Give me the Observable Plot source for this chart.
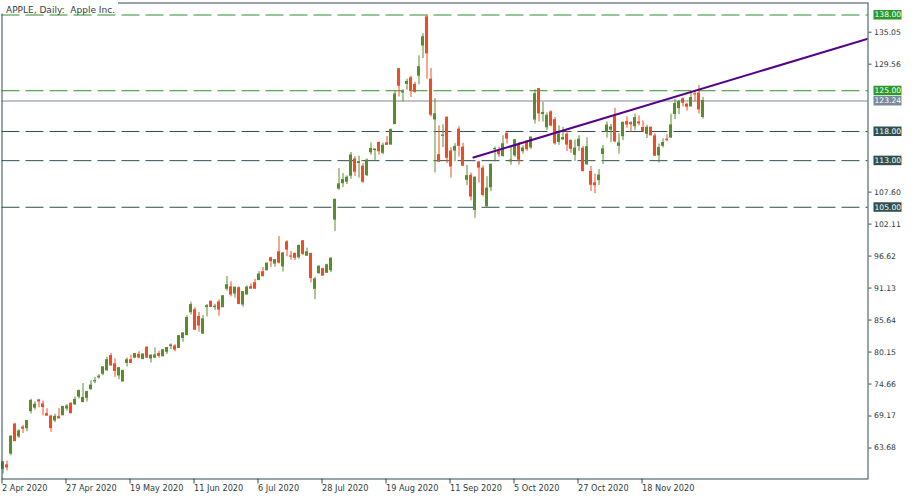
<!DOCTYPE html>
<html><head><meta charset="utf-8">
<script src="https://cdn.jsdelivr.net/npm/d3@7"></script>
<script src="https://cdn.jsdelivr.net/npm/@observablehq/plot@0.6"></script>
<style>
html,body{margin:0;padding:0;background:#fff;}
#chart{width:915px;height:500px;overflow:hidden;}
</style></head><body><div id="chart"></div>
<script>
// ---- data (daily bars, one per trading day, in order) ----
const dates = ["2020-04-02","2020-04-03","2020-04-06","2020-04-07","2020-04-08","2020-04-09","2020-04-13","2020-04-14","2020-04-15","2020-04-16","2020-04-17","2020-04-20","2020-04-21","2020-04-22","2020-04-23","2020-04-24","2020-04-27","2020-04-28","2020-04-29","2020-04-30","2020-05-01","2020-05-04","2020-05-05","2020-05-06","2020-05-07","2020-05-08","2020-05-11","2020-05-12","2020-05-13","2020-05-14","2020-05-15","2020-05-18","2020-05-19","2020-05-20","2020-05-21","2020-05-22","2020-05-26","2020-05-27","2020-05-28","2020-05-29","2020-06-01","2020-06-02","2020-06-03","2020-06-04","2020-06-05","2020-06-08","2020-06-09","2020-06-10","2020-06-11","2020-06-12","2020-06-15","2020-06-16","2020-06-17","2020-06-18","2020-06-19","2020-06-22","2020-06-23","2020-06-24","2020-06-25","2020-06-26","2020-06-29","2020-06-30","2020-07-01","2020-07-02","2020-07-06","2020-07-07","2020-07-08","2020-07-09","2020-07-10","2020-07-13","2020-07-14","2020-07-15","2020-07-16","2020-07-17","2020-07-20","2020-07-21","2020-07-22","2020-07-23","2020-07-24","2020-07-27","2020-07-28","2020-07-29","2020-07-30","2020-07-31","2020-08-03","2020-08-04","2020-08-05","2020-08-06","2020-08-07","2020-08-10","2020-08-11","2020-08-12","2020-08-13","2020-08-14","2020-08-17","2020-08-18","2020-08-19","2020-08-20","2020-08-21","2020-08-24","2020-08-25","2020-08-26","2020-08-27","2020-08-28","2020-08-31","2020-09-01","2020-09-02","2020-09-03","2020-09-04","2020-09-08","2020-09-09","2020-09-10","2020-09-11","2020-09-14","2020-09-15","2020-09-16","2020-09-17","2020-09-18","2020-09-21","2020-09-22","2020-09-23","2020-09-24","2020-09-25","2020-09-28","2020-09-29","2020-09-30","2020-10-01","2020-10-02","2020-10-05","2020-10-06","2020-10-07","2020-10-08","2020-10-09","2020-10-12","2020-10-13","2020-10-14","2020-10-15","2020-10-16","2020-10-19","2020-10-20","2020-10-21","2020-10-22","2020-10-23","2020-10-26","2020-10-27","2020-10-28","2020-10-29","2020-10-30","2020-11-02","2020-11-03","2020-11-04","2020-11-05","2020-11-06","2020-11-09","2020-11-10","2020-11-11","2020-11-12","2020-11-13","2020-11-16","2020-11-17","2020-11-18","2020-11-19","2020-11-20","2020-11-23","2020-11-24","2020-11-25","2020-11-27","2020-11-30","2020-12-01","2020-12-02","2020-12-03","2020-12-04","2020-12-07","2020-12-08","2020-12-09","2020-12-10"];
const open = [60.09,60.70,62.72,67.70,65.68,67.18,67.08,70.00,70.60,71.85,71.17,69.49,69.07,68.40,68.97,69.30,70.45,71.27,71.18,72.49,71.56,72.29,73.77,75.12,75.81,76.41,77.03,79.46,78.04,76.13,75.09,78.29,78.76,79.17,79.67,78.94,80.88,79.04,79.19,79.81,79.44,80.19,81.17,81.10,80.84,82.56,83.04,86.98,87.33,86.18,83.31,87.87,88.79,87.85,88.66,87.84,91.00,91.25,90.18,91.10,88.31,90.02,91.28,91.96,92.50,93.85,94.18,96.26,95.34,97.27,94.84,98.99,96.56,96.99,96.42,99.17,96.69,97.00,90.99,93.71,94.37,93.75,94.19,102.89,108.20,109.13,109.38,110.41,113.21,112.60,111.97,110.50,114.43,114.83,116.06,114.35,115.98,115.75,119.26,128.70,124.70,126.18,127.14,126.01,127.58,132.76,137.59,126.91,120.07,113.95,117.26,120.36,114.57,114.72,118.33,115.23,109.72,110.40,104.54,112.68,111.62,105.17,108.43,114.96,114.55,113.79,117.64,112.89,113.91,115.70,114.62,116.25,115.28,120.06,125.27,121.00,118.72,121.28,119.96,116.20,116.67,117.45,116.39,114.01,115.49,115.05,112.37,111.06,109.11,109.66,114.14,117.95,118.32,120.50,115.55,117.19,119.62,119.44,118.92,119.55,118.61,117.59,118.64,117.18,113.91,115.55,116.59,116.97,121.01,122.02,123.52,122.60,122.31,124.38,124.53,120.50];
const high = [61.29,61.43,65.78,67.92,66.84,67.52,68.43,72.06,71.58,72.05,71.74,70.42,69.31,69.48,70.44,70.75,71.14,71.46,72.42,73.63,74.75,73.42,75.25,75.81,76.29,77.59,79.26,79.92,78.99,77.45,76.98,79.13,79.63,79.88,80.22,79.81,81.06,79.68,80.86,80.29,80.59,80.86,81.55,81.41,82.94,83.40,86.40,88.69,87.77,86.95,86.42,88.30,88.85,88.36,89.14,89.87,93.10,92.20,91.25,91.33,90.54,91.50,91.84,92.62,93.95,94.66,95.38,96.32,95.98,99.96,97.26,99.25,97.41,97.15,98.50,99.25,97.98,97.08,92.97,94.91,94.55,95.23,96.30,106.42,111.64,110.79,110.39,114.41,113.68,113.78,112.48,113.28,116.04,115.00,116.09,116.00,117.16,118.39,124.87,128.79,125.18,126.99,127.49,126.44,131.00,134.80,137.98,128.84,123.70,118.99,119.14,120.50,115.23,115.93,118.83,116.00,112.20,110.88,110.19,112.86,112.11,110.25,112.44,115.32,115.31,117.26,117.72,115.37,116.65,116.12,115.55,116.40,117.00,125.18,125.39,123.03,121.20,121.55,120.42,118.98,118.71,118.04,116.55,116.55,117.28,115.43,116.93,111.99,110.68,111.49,115.59,119.62,119.20,121.99,117.59,119.63,120.53,119.67,120.99,120.67,119.82,119.06,118.77,117.62,115.85,116.75,117.49,120.97,123.47,123.37,123.78,122.86,124.57,124.98,125.95,123.87];
const low = [59.22,59.74,62.35,64.75,65.31,66.18,66.46,69.51,70.16,70.59,69.21,69.21,66.36,68.05,68.72,69.25,69.99,69.55,70.97,72.09,71.46,71.58,73.61,74.72,75.49,76.07,76.81,77.73,75.80,75.38,75.05,77.58,78.25,79.14,78.97,78.84,79.13,78.27,79.09,79.12,79.30,79.73,80.58,80.20,80.81,81.83,83.00,86.52,83.87,83.56,83.15,86.18,87.77,87.31,86.29,87.79,90.57,89.63,89.39,88.26,87.82,90.00,90.98,90.91,92.47,93.06,94.09,94.67,94.71,95.26,93.88,96.49,95.91,95.84,96.06,96.74,96.60,92.01,89.15,93.48,93.25,93.71,93.77,100.83,107.89,108.39,108.90,109.80,110.29,110.00,109.11,110.30,113.93,113.05,113.96,114.01,115.61,115.73,119.25,123.94,123.05,125.08,123.83,124.58,126.00,130.53,127.00,120.50,110.89,112.68,115.26,112.50,110.00,112.80,113.61,112.04,108.71,106.09,103.10,109.16,106.77,105.00,107.67,112.78,113.57,113.62,115.83,112.22,113.55,112.25,114.13,114.59,114.92,119.28,119.65,119.62,118.15,118.81,115.66,115.63,116.45,114.59,114.28,112.88,114.54,111.10,112.20,107.72,107.32,108.73,112.35,116.87,116.13,116.05,114.13,116.44,118.57,117.87,118.15,118.96,118.00,116.81,117.29,113.75,112.59,115.17,116.22,116.81,120.01,120.89,122.21,121.52,122.25,123.09,121.00,120.15];
const close = [61.23,60.35,65.62,64.86,66.52,67.00,68.31,71.76,71.11,71.67,70.70,69.23,67.09,69.03,68.76,70.74,70.79,69.65,71.93,73.45,72.27,73.29,74.39,75.16,75.93,77.53,78.75,77.85,76.91,77.39,76.93,78.74,78.29,79.81,79.21,79.72,79.18,79.53,79.56,79.49,80.46,80.84,81.28,80.58,82.88,83.37,86.00,88.21,83.98,84.70,85.75,88.02,87.90,87.93,87.43,89.72,91.63,90.02,91.21,88.41,90.45,91.20,91.03,91.03,93.46,93.17,95.34,95.75,95.92,95.48,97.06,97.73,96.52,96.33,98.36,97.00,97.27,92.85,92.62,94.81,93.25,95.04,96.19,106.26,108.94,109.67,110.06,113.90,111.11,112.73,109.38,113.01,115.01,114.91,114.61,115.56,115.71,118.28,124.37,125.86,124.83,126.52,125.01,124.81,129.04,134.18,131.40,120.88,120.96,112.82,117.32,113.49,112.00,115.36,115.54,112.13,110.34,106.84,110.08,111.81,107.12,108.22,112.28,115.01,114.09,115.81,116.79,113.02,116.50,113.16,115.08,114.97,116.97,124.40,121.10,121.19,120.71,119.02,115.98,117.51,116.87,115.75,115.04,115.05,116.60,111.20,115.32,108.86,108.77,110.44,114.95,119.03,118.69,116.32,115.97,119.49,119.21,119.26,120.30,119.39,118.03,118.64,117.34,113.85,115.17,116.03,116.57,119.05,122.72,123.08,122.94,122.25,123.75,124.37,121.78,123.24];

// time-axis labels (bar index -> label)
const tickIdx = [0,16,32,48,64,80,96,112,128,144,160];
const tickLabels = ["2 Apr 2020","27 Apr 2020","19 May 2020","11 Jun 2020","6 Jul 2020","28 Jul 2020","19 Aug 2020","11 Sep 2020","5 Oct 2020","27 Oct 2020","18 Nov 2020"];
// price-axis ticks
const priceTicks = [63.68,69.17,74.66,80.15,85.64,91.13,96.62,102.11,107.60,129.56,135.05];
// horizontal levels
const levelValues = [138.00,125.00,118.00,113.00,105.00];
const levelKind = ["resistance","resistance","support","support","support"];
// trend line anchors (bar index, price)
const trendIdx = [117.6,216.25];
const trendPrice = [113.54,133.92];
const lastPrice = close[close.length-1];

// ---- styles ----
const GREEN = "#5b8c2c", RED = "#f04c24";
const LEVEL_COLOR = {resistance:"#2a8f2a", support:"#2f4f4f"};
const BOX_COLOR = {resistance:"#2a992a", support:"#2f4f4f"};
const GREY = "#7a8a9a";
const FG = "#2f3d3d";

const bars = dates.map((d,i)=>({i, date:d, o:open[i], h:high[i], l:low[i], c:close[i], up: close[i] >= open[i]}));
const levels = levelValues.map((v,k)=>({v, kind:levelKind[k]}));
const trend = trendIdx.map((x,k)=>({x, p:trendPrice[k]}));

const plot = Plot.plot({
  width: 915, height: 500,
  marginLeft: 1.5, marginRight: 47.5, marginTop: 2.5, marginBottom: 21.5,
  style: {fontFamily: "DejaVu Sans", fontSize: "8px", background: "#fff", color: FG, overflow: "visible"},
  x: {type: "linear", domain: [-0.25, 216.25], axis: null},
  y: {domain: [58.36, 140.06], axis: null},
  marks: [
    Plot.ruleY(levels, {y: "v", stroke: d => LEVEL_COLOR[d.kind], strokeWidth: 1, strokeDasharray: "18,6"}),
    Plot.ruleY([lastPrice], {y: d => d, stroke: GREY, strokeWidth: 1}),
    Plot.ruleX(bars, {x: "i", y1: "l", y2: "h", stroke: d => d.up ? GREEN : RED, strokeWidth: 1}),
    Plot.rect(bars, {x1: d => d.i - 0.375, x2: d => d.i + 0.375,
      y1: d => Math.min(d.o, d.c), y2: d => Math.max(d.o, d.c),
      fill: d => d.up ? GREEN : RED, insetTop: -0.5, insetBottom: -0.5}),
    Plot.line(trend, {x: "x", y: "p", stroke: "#55008b", strokeWidth: 2, clip: true}),
    Plot.frame({stroke: "#2f4f4f", strokeWidth: 1}),
    Plot.axisX({anchor: "bottom", ticks: tickIdx, tickFormat: d => tickLabels[tickIdx.indexOf(d)],
      tickSize: 5, tickPadding: 1, textAnchor: "start", dx: -1, stroke: "#2f4f4f", fill: FG, fontSize: 8.2}),
    Plot.axisY({anchor: "right", ticks: priceTicks, tickFormat: d => d.toFixed(2),
      tickSize: 3, tickPadding: 3, stroke: "#2f4f4f", fill: FG, fontSize: 7.7})
  ]
});

document.getElementById("chart").appendChild(plot);

// price label boxes on the right axis, positioned with the plot's own y scale
const ys = plot.scale("y");
const svg = d3.select(plot);
const boxes = levels.map(d => ({v: d.v, color: BOX_COLOR[d.kind]}))
  .concat([{v: lastPrice, color: GREY}]);
const g = svg.append("g").attr("font-family", "DejaVu Sans").attr("font-size", 7.6).attr("text-anchor", "start");
boxes.forEach(b => {
  const yc = ys.apply(b.v);
  g.append("rect").attr("x", 873.5).attr("y", yc - 4.5).attr("width", 28).attr("height", 9.5).attr("fill", b.color);
  g.append("text").attr("x", 874.5).attr("y", yc).attr("dy", "0.36em").attr("text-anchor", "start").attr("fill", "#fff").text(b.v.toFixed(2));
});

// chart title (top-left, over the plot)
svg.append("rect").attr("x", 0).attr("y", 0).attr("width", 118).attr("height", 13.5).attr("fill", "#fff");
svg.append("text").attr("x", 6).attr("y", 13).attr("text-anchor", "start").attr("font-family", "DejaVu Sans").attr("font-size", 9)
  .attr("fill", FG).text("APPLE, Daily:\u00a0 Apple Inc.");
</script>
</body></html>
